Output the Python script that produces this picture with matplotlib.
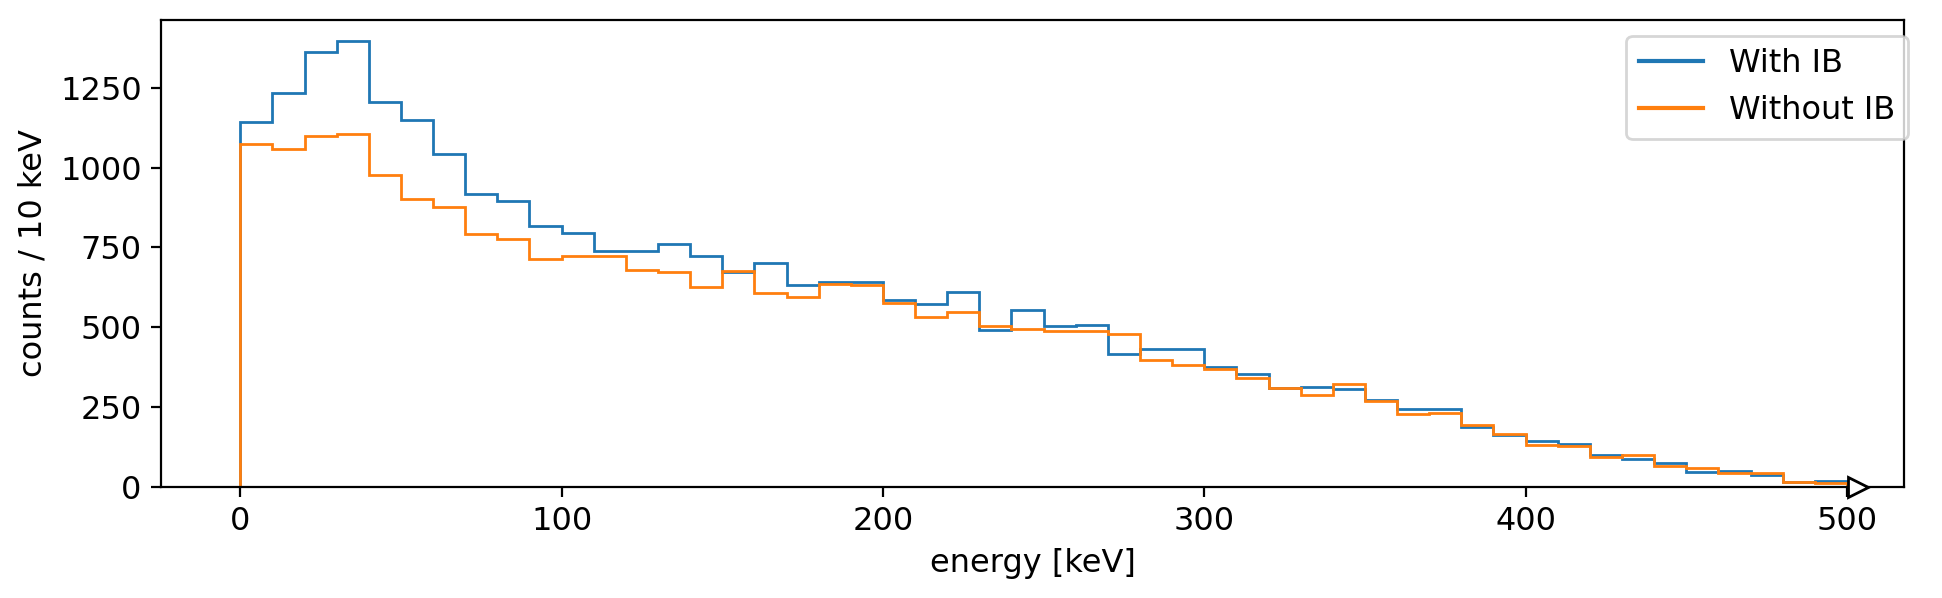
import numpy as np
import matplotlib.pyplot as plt
from matplotlib.lines import Line2D
from matplotlib.ticker import MultipleLocator

plt.rcParams['font.size'] = 11.5

# bin edges, 10 keV wide
edges = np.arange(0, 510, 10)

# counts per bin
with_ib = [1142, 1233, 1361, 1395, 1205, 1149, 1042, 917, 895, 817,
           796, 739, 739, 760, 722, 672, 700, 631, 640, 640,
           584, 572, 609, 491, 553, 503, 506, 416, 431, 431,
           376, 352, 309, 312, 306, 272, 245, 243, 186, 162,
           144, 134, 99, 86, 75, 47, 48, 37, 16, 17]
without_ib = [1073, 1058, 1099, 1106, 976, 900, 875, 791, 776, 715,
              722, 722, 679, 672, 626, 675, 606, 594, 635, 632,
              576, 533, 549, 503, 494, 489, 489, 478, 397, 381,
              369, 341, 309, 287, 321, 268, 228, 231, 193, 165,
              131, 127, 94, 101, 66, 58, 42, 42, 16, 11]
labels = ['With IB', 'Without IB']

centers = edges[:-1] + 5

fig = plt.figure(figsize=(9.71, 2.99), dpi=200)
ax = fig.add_axes([0.083, 0.186, 0.8975, 0.781])

handles = []
for counts, lab in zip([with_ib, without_ib], labels):
    _, _, patches = ax.hist(centers, bins=edges, weights=counts, histtype='step')
    handles.append(Line2D([], [], color=patches[0].get_edgecolor(), label=lab))

# arrow-like marker at the end of the energy axis
ax.plot(503.3, 0, '>', ms=7.2, mfc='white', mec='black', mew=1.0, clip_on=False, zorder=5)

ax.set_xlim(-24.6, 517.8)
ax.set_ylim(0, 1463)
ax.yaxis.set_major_locator(MultipleLocator(250))
ax.set_xlabel('energy [keV]')
ax.set_ylabel('counts / 10 keV')
ax.legend(handles=handles, loc='upper right', bbox_to_anchor=(1.002, 0.966), borderaxespad=0)

plt.savefig('out.png', dpi=200)
